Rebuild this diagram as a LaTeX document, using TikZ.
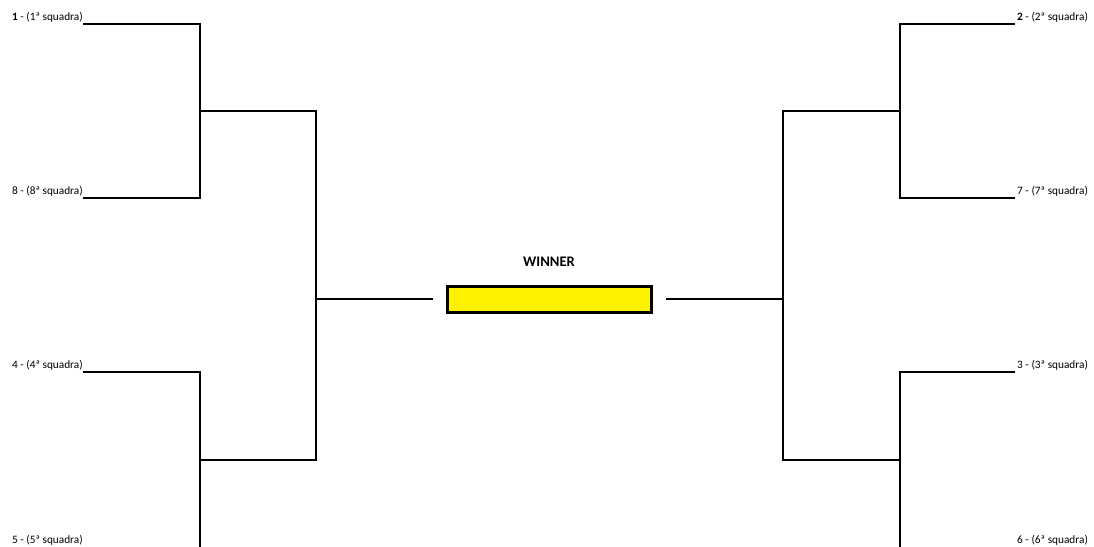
\documentclass[tikz,border=0pt]{standalone}
\usepackage{fontspec}
\setmainfont{Carlito}
\tikzset{
  wire/.style={line width=1.8pt, line cap=rect},
  teamL/.style={anchor=base east, inner sep=0pt, font=\fontsize{11.3}{13}\selectfont},
  teamR/.style={anchor=base west, inner sep=0pt, font=\fontsize{11.3}{13}\selectfont},
  winbox/.style={draw, line width=2.6pt, fill=yellow, minimum width=204pt, minimum height=26pt, inner sep=0pt},
  wintitle/.style={inner sep=0pt, font=\fontsize{14.6}{16}\selectfont\bfseries}
}
\begin{document}
\begin{tikzpicture}[x=1pt,y=-1pt]
\useasboundingbox (0,0) rectangle (1094,546);
\clip (0,0) rectangle (1094,546);
% left team lines
\coordinate (a1) at (84,24);  \coordinate (b1) at (200,24);
\coordinate (a8) at (84,198); \coordinate (b8) at (200,198);
\coordinate (a4) at (84,372); \coordinate (b4) at (200,372);
\coordinate (a5) at (84,549); \coordinate (b5) at (200,549);
\coordinate (q1) at (200,111); \coordinate (s1) at (316,111);
\coordinate (q2) at (200,460); \coordinate (s2) at (316,460);
\coordinate (fL) at (316,299); \coordinate (gL) at (432,299);
% right team lines
\coordinate (a2) at (1014,24);  \coordinate (b2) at (900,24);
\coordinate (a7) at (1014,198); \coordinate (b7) at (900,198);
\coordinate (a3) at (1014,372); \coordinate (b3) at (900,372);
\coordinate (a6) at (1014,549); \coordinate (b6) at (900,549);
\coordinate (q3) at (900,111); \coordinate (s3) at (783,111);
\coordinate (q4) at (900,460); \coordinate (s4) at (783,460);
\coordinate (fR) at (783,299); \coordinate (gR) at (667,299);

\node[teamL] (t1) at (83,20) {\textbf{1} - (1ª squadra)};
\node[teamL] (t8) at (83,194) {8 - (8ª squadra)};
\node[teamL] (t4) at (83,368) {4 - (4ª squadra)};
\node[teamL] (t5) at (83,543) {5 - (5ª squadra)};
\node[teamR] (t2) at (1017,20) {\textbf{2} - (2ª squadra)};
\node[teamR] (t7) at (1017,194) {7 - (7ª squadra)};
\node[teamR] (t3) at (1017,368) {3 - (3ª squadra)};
\node[teamR] (t6) at (1017,543) {6 - (6ª squadra)};

\node[winbox] (win) at (549.5,299.5) {};
\node[wintitle] (wt) at (549,262) {WINNER};

\draw[wire] (a1) -- (b1) -- (b8) -- (a8);
\draw[wire] (a4) -- (b4) -- (b5) -- (a5);
\draw[wire] (q1) -- (s1) -- (s2) -- (q2);
\draw[wire] (fL) -- (gL);
\draw[wire] (a2) -- (b2) -- (b7) -- (a7);
\draw[wire] (a3) -- (b3) -- (b6) -- (a6);
\draw[wire] (q3) -- (s3) -- (s4) -- (q4);
\draw[wire] (fR) -- (gR);
\end{tikzpicture}
\end{document}
